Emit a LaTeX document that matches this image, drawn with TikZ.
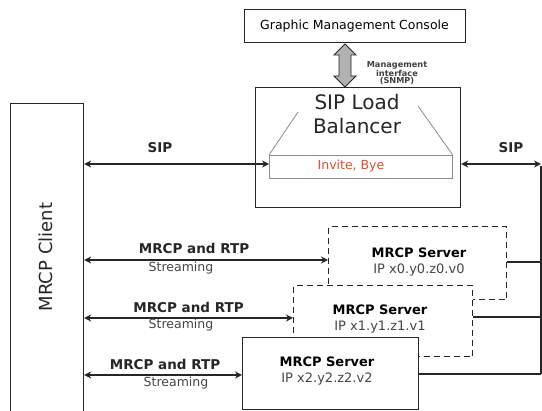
\documentclass[tikz,border=0pt]{standalone}
\usepackage{fontspec}
\setmainfont{DejaVu Sans}
\usetikzlibrary{arrows.meta}
\definecolor{invred}{RGB}{220,80,50}
\definecolor{txtgray}{RGB}{70,70,70}
\tikzset{
  box/.style={draw=black!85, line width=1.2pt, fill=white, inner sep=0pt},
  conn/.style={line width=1.4pt, black!85, {Stealth[length=7pt,width=7pt]}-{Stealth[length=7pt,width=7pt]}},
  plain/.style={line width=1.1pt, black!85},
  lbl/.style={font=\fontsize{13.5}{15}\selectfont\bfseries, inner sep=0pt, text=black!85},
  sub/.style={font=\fontsize{12.5}{14}\selectfont, text=txtgray, inner sep=0pt},
  srv/.style={inner sep=0pt, align=center, font=\fontsize{13}{16.5}\selectfont},
}
\begin{document}
\begin{tikzpicture}[x=1pt,y=-1pt]
\useasboundingbox (0,0) rectangle (542,411);
\clip (0,0) rectangle (542,411);
\fill[white] (0,0) rectangle (542,411);

% Graphic Management Console
\node[box, minimum width=221pt, minimum height=33pt, line width=1pt] (gmc) at (354.5,26.5) {\fontsize{12.5}{15}\selectfont Graphic Management Console};

% SIP Load Balancer
\node[box, minimum width=205pt, minimum height=120pt, anchor=north west, line width=1.2pt] (slb) at (255,87) {};
\node[inner sep=0pt, align=center, font=\fontsize{20}{24}\selectfont, text=black!85] (slbt) at (357,114) {SIP Load\\Balancer};
\node[draw=black!45, line width=0.8pt, minimum width=183pt, minimum height=23pt, anchor=north west, inner sep=0pt] (inv) at (269,155) {};
\node[inner sep=0pt, text=invred, font=\fontsize{12.5}{15}\selectfont] (invt) at (351,166.5) {Invite, Bye};
\coordinate (ll) at (298,112);
\coordinate (rl) at (418,106);
\draw[black!45, line width=0.8pt] (inv.north west) -- (ll);
\draw[black!45, line width=0.8pt] (inv.north east) -- (rl);

% management interface fat arrow
\draw[fill=black!30, draw=black!85, line width=0.9pt]
  (345,44) -- (356,55) -- (351,55) -- (351,76) -- (356,76) -- (345,87) -- (334,76) -- (339,76) -- (339,55) -- (334,55) -- cycle;
\node[inner sep=0pt, align=center, font=\fontsize{8.2}{7.8}\selectfont\bfseries, text=black!75] (mgmt) at (397,73) {Management\\interface\\(SNMP)};

% MRCP client
\node[box, minimum width=73pt, minimum height=320pt, anchor=north west] (cl) at (10,103) {};
\node[rotate=90, inner sep=0pt, font=\fontsize{18}{22}\selectfont, text=black!85] (clt) at (46,257) {MRCP Client};

% MRCP servers
\node[box, dashed, dash pattern=on 6pt off 4pt, minimum width=178pt, minimum height=73pt, anchor=north west] (s0) at (328,226) {};
\node[box, dashed, dash pattern=on 6pt off 4pt, minimum width=179pt, minimum height=71pt, anchor=north west] (s1) at (293,285) {};
\node[box, minimum width=176pt, minimum height=72pt, anchor=north west] (s2) at (242,337) {};
\node[srv] (s0t) at (419,262) {\textbf{MRCP Server}\\\textcolor{txtgray}{IP x0.y0.z0.v0}};
\node[srv] (s1t) at (380,319) {\textbf{MRCP Server}\\\textcolor{txtgray}{IP x1.y1.z1.v1}};
\node[srv] (s2t) at (327,371) {\textbf{MRCP Server}\\\textcolor{txtgray}{IP x2.y2.z2.v2}};

% right rail
\coordinate (rtop) at (541,164);
\coordinate (r0) at (541,262);
\coordinate (r1) at (541,317);
\coordinate (r2) at (541,374);
\draw[plain] (s0.east |- r0) -- (r0);
\draw[plain] (s1.east |- r1) -- (r1);
\draw[plain] (s2.east |- r2) -- (r2);
\draw[plain] (541,166) -- (r2);

% SIP arrows
\draw[conn] (cl.east |- 0,164) -- (inv.west |- 0,164);
\node[lbl] (sip1) at (160,148) {SIP};
\draw[conn] (slb.east |- 0,164) -- (rtop);
\node[lbl] (sip2) at (511,148) {SIP};

% MRCP arrows
\draw[conn] (cl.east |- 0,260) -- (s0.west |- 0,260);
\node[lbl] (m0) at (194,248) {MRCP and RTP};
\node[sub] (st0) at (181,268) {Streaming};
\draw[conn] (cl.east |- 0,318) -- (s1.west |- 0,318);
\node[lbl] (m1) at (188.5,307) {MRCP and RTP};
\node[sub] (st1) at (181,325) {Streaming};
\draw[conn] (cl.east |- 0,375) -- (s2.west |- 0,375);
\node[lbl] (m2) at (165,364) {MRCP and RTP};
\node[sub] (st2) at (176,383) {Streaming};
\end{tikzpicture}
\end{document}
